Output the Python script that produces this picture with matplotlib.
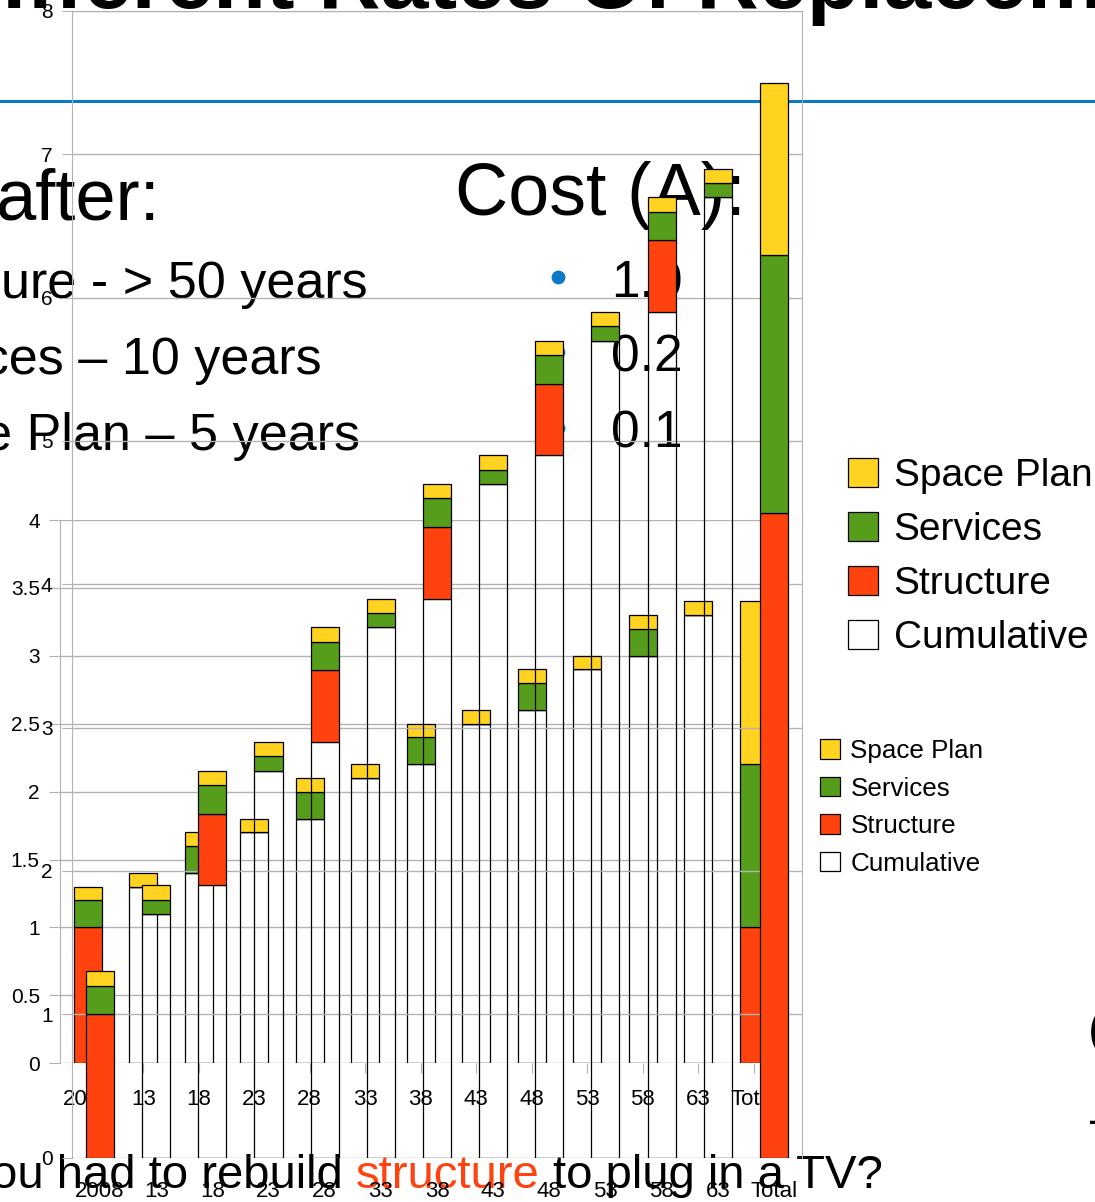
import matplotlib
matplotlib.use('Agg')
import matplotlib.pyplot as plt

plt.rcParams['font.family'] = ['Liberation Sans', 'DejaVu Sans']

W, H = 1095, 1202

# categories (same for both charts)
years = ['2008', '13', '18', '23', '28', '33', '38', '43', '48', '53', '58', '63', 'Total']

# front chart, axis 0-8
cum_big = [0, 1.7, 1.9, 2.7, 2.9, 3.7, 3.9, 4.7, 4.9, 5.7, 5.9, 6.7, 0]
structure_big = [1.0, 0, 0.5, 0, 0.5, 0, 0.5, 0, 0.5, 0, 0.5, 0, 4.5]
services_big = [0.2, 0.1, 0.2, 0.1, 0.2, 0.1, 0.2, 0.1, 0.2, 0.1, 0.2, 0.1, 1.8]
space_big = [0.1, 0.1, 0.1, 0.1, 0.1, 0.1, 0.1, 0.1, 0.1, 0.1, 0.1, 0.1, 1.2]
yticks_big = [0, 1, 2, 3, 4, 5, 6, 7, 8]

# back chart, axis 0-4
cum_small = [0, 1.3, 1.4, 1.7, 1.8, 2.1, 2.2, 2.5, 2.6, 2.9, 3.0, 3.3, 0]
structure_small = [1.0, 0, 0, 0, 0, 0, 0, 0, 0, 0, 0, 0, 1.0]
services_small = [0.2, 0, 0.2, 0, 0.2, 0, 0.2, 0, 0.2, 0, 0.2, 0, 1.2]
space_small = [0.1, 0.1, 0.1, 0.1, 0.1, 0.1, 0.1, 0.1, 0.1, 0.1, 0.1, 0.1, 1.2]
yticks_small = [0, 0.5, 1, 1.5, 2, 2.5, 3, 3.5, 4]
ytick_labels_small = ['0', '0.5', '1', '1.5', '2', '2.5', '3', '3.5', '4']

series_names = ['Cumulative', 'Structure', 'Services', 'Space Plan']
colors = ['none', '#FF420E', '#579D1C', '#FFD320']
grid_grey = '#b3b3b3'
slide_blue = '#0B79C6'


def px_rect(left, top, right, bottom):
    # pixel box -> figure fraction
    return [left / W, 1 - bottom / H, (right - left) / W, (bottom - top) / H]


def draw_stack(ax, cum, structure, services, space):
    x = list(range(len(years)))
    bottom = [0] * len(x)
    bars = []
    for vals, col in zip([cum, structure, services, space], colors):
        b = ax.bar(x, vals, 0.5, bottom=bottom, color=col, edgecolor='black',
                   linewidth=0.9, zorder=3)
        bars.append(b)
        bottom = [b0 + v for b0, v in zip(bottom, vals)]
    ax.set_xlim(-0.5, len(x) - 0.5)
    ax.set_xticks(x)
    ax.set_xticklabels(years)
    ax.patch.set_alpha(0)
    ax.grid(axis='y', color=grid_grey, linewidth=1)
    ax.set_axisbelow(True)
    for s in ax.spines.values():
        s.set_color(grid_grey)
    ax.spines['bottom'].set_visible(False)
    return bars


def make_legend(ax, bars, size, left, top, spacing):
    handles = bars[::-1]
    labels = series_names[::-1]
    leg = ax.legend(handles, labels, loc='upper left',
                    bbox_to_anchor=(left / W, 1 - top / H),
                    bbox_transform=fig.transFigure, frameon=False,
                    fontsize=size, borderpad=0, borderaxespad=0,
                    handlelength=0.77, handleheight=0.77,
                    handletextpad=0.4, labelspacing=spacing)
    return leg


fig = plt.figure(figsize=(W / 100, H / 100), dpi=100)

# slide layer in pixel coordinates
bg = fig.add_axes([0, 0, 1, 1], zorder=0)
bg.set_xlim(0, W)
bg.set_ylim(H, 0)
bg.axis('off')

bg.text(-60, 8, 'Different Rates Of Replacement', fontsize=62, fontweight='bold', va='baseline')
bg.axhline(101, color=slide_blue, linewidth=2.2)

bg.text(-4, 219, 'after:', fontsize=52, va='baseline')
bg.text(455, 215, 'Cost (A):', fontsize=53, va='baseline')
bg.text(1, 298, 'ure - > 50 years', fontsize=37.5, va='baseline')
bg.text(-29, 374, 'ices \u2013 10 years', fontsize=37.5, va='baseline')
bg.text(-43, 450, 'ce Plan \u2013 5 years', fontsize=37.5, va='baseline')
for yy, lab in zip([297, 372, 448], ['1.0', '0.2', '0.1']):
    bg.scatter([558], [yy - 20], s=80, color=slide_blue, zorder=2)
    bg.text(611, yy, lab, fontsize=37, va='baseline')

bg.text(1088, 1045, '(', fontsize=36, va='baseline')
bg.text(1090, 1135, '\u2013', fontsize=36, va='baseline')

# bottom question, middle word in red
r = fig.canvas.get_renderer()
inv = bg.transData.inverted()
q_size = 34
t1 = bg.text(-9, 1188, 'ou had to rebuild', fontsize=q_size, va='baseline')
x_end = inv.transform((t1.get_window_extent(r).x1, 0))[0]
sp = 0.278 * q_size / 0.72
t2 = bg.text(x_end + sp, 1188, 'structure', fontsize=q_size, va='baseline', color='#FF420E')
x_end = inv.transform((t2.get_window_extent(r).x1, 0))[0]
bg.text(x_end + sp, 1188, 'to plug in a TV?', fontsize=q_size, va='baseline')

# back chart
ax_s = fig.add_axes(px_rect(60, 520, 781.5, 1063.3), zorder=1)
bars_s = draw_stack(ax_s, cum_small, structure_small, services_small, space_small)
ax_s.set_ylim(0, 4)
ax_s.set_yticks(yticks_small)
ax_s.set_yticklabels(ytick_labels_small)
ax_s.spines['top'].set_visible(False)
ax_s.spines['right'].set_visible(False)
ax_s.tick_params(axis='y', length=8, color=grid_grey, pad=6.5, labelsize=15)
ax_s.tick_params(axis='x', length=7, color=grid_grey, pad=11.5, labelsize=16)
make_legend(ax_s, bars_s, 18.7, 820, 739, 0.52)

# front chart
ax_b = fig.add_axes(px_rect(72, 11, 802, 1157.5), zorder=2)
bars_b = draw_stack(ax_b, cum_big, structure_big, services_big, space_big)
ax_b.set_ylim(0, 8)
ax_b.set_yticks(yticks_big)
ax_b.tick_params(axis='y', length=7, color=grid_grey, pad=7, labelsize=15)
ax_b.tick_params(axis='x', length=0, pad=17, labelsize=16)
make_legend(ax_b, bars_b, 28, 848, 458, 0.46)

fig.savefig('out.png', dpi=100)
